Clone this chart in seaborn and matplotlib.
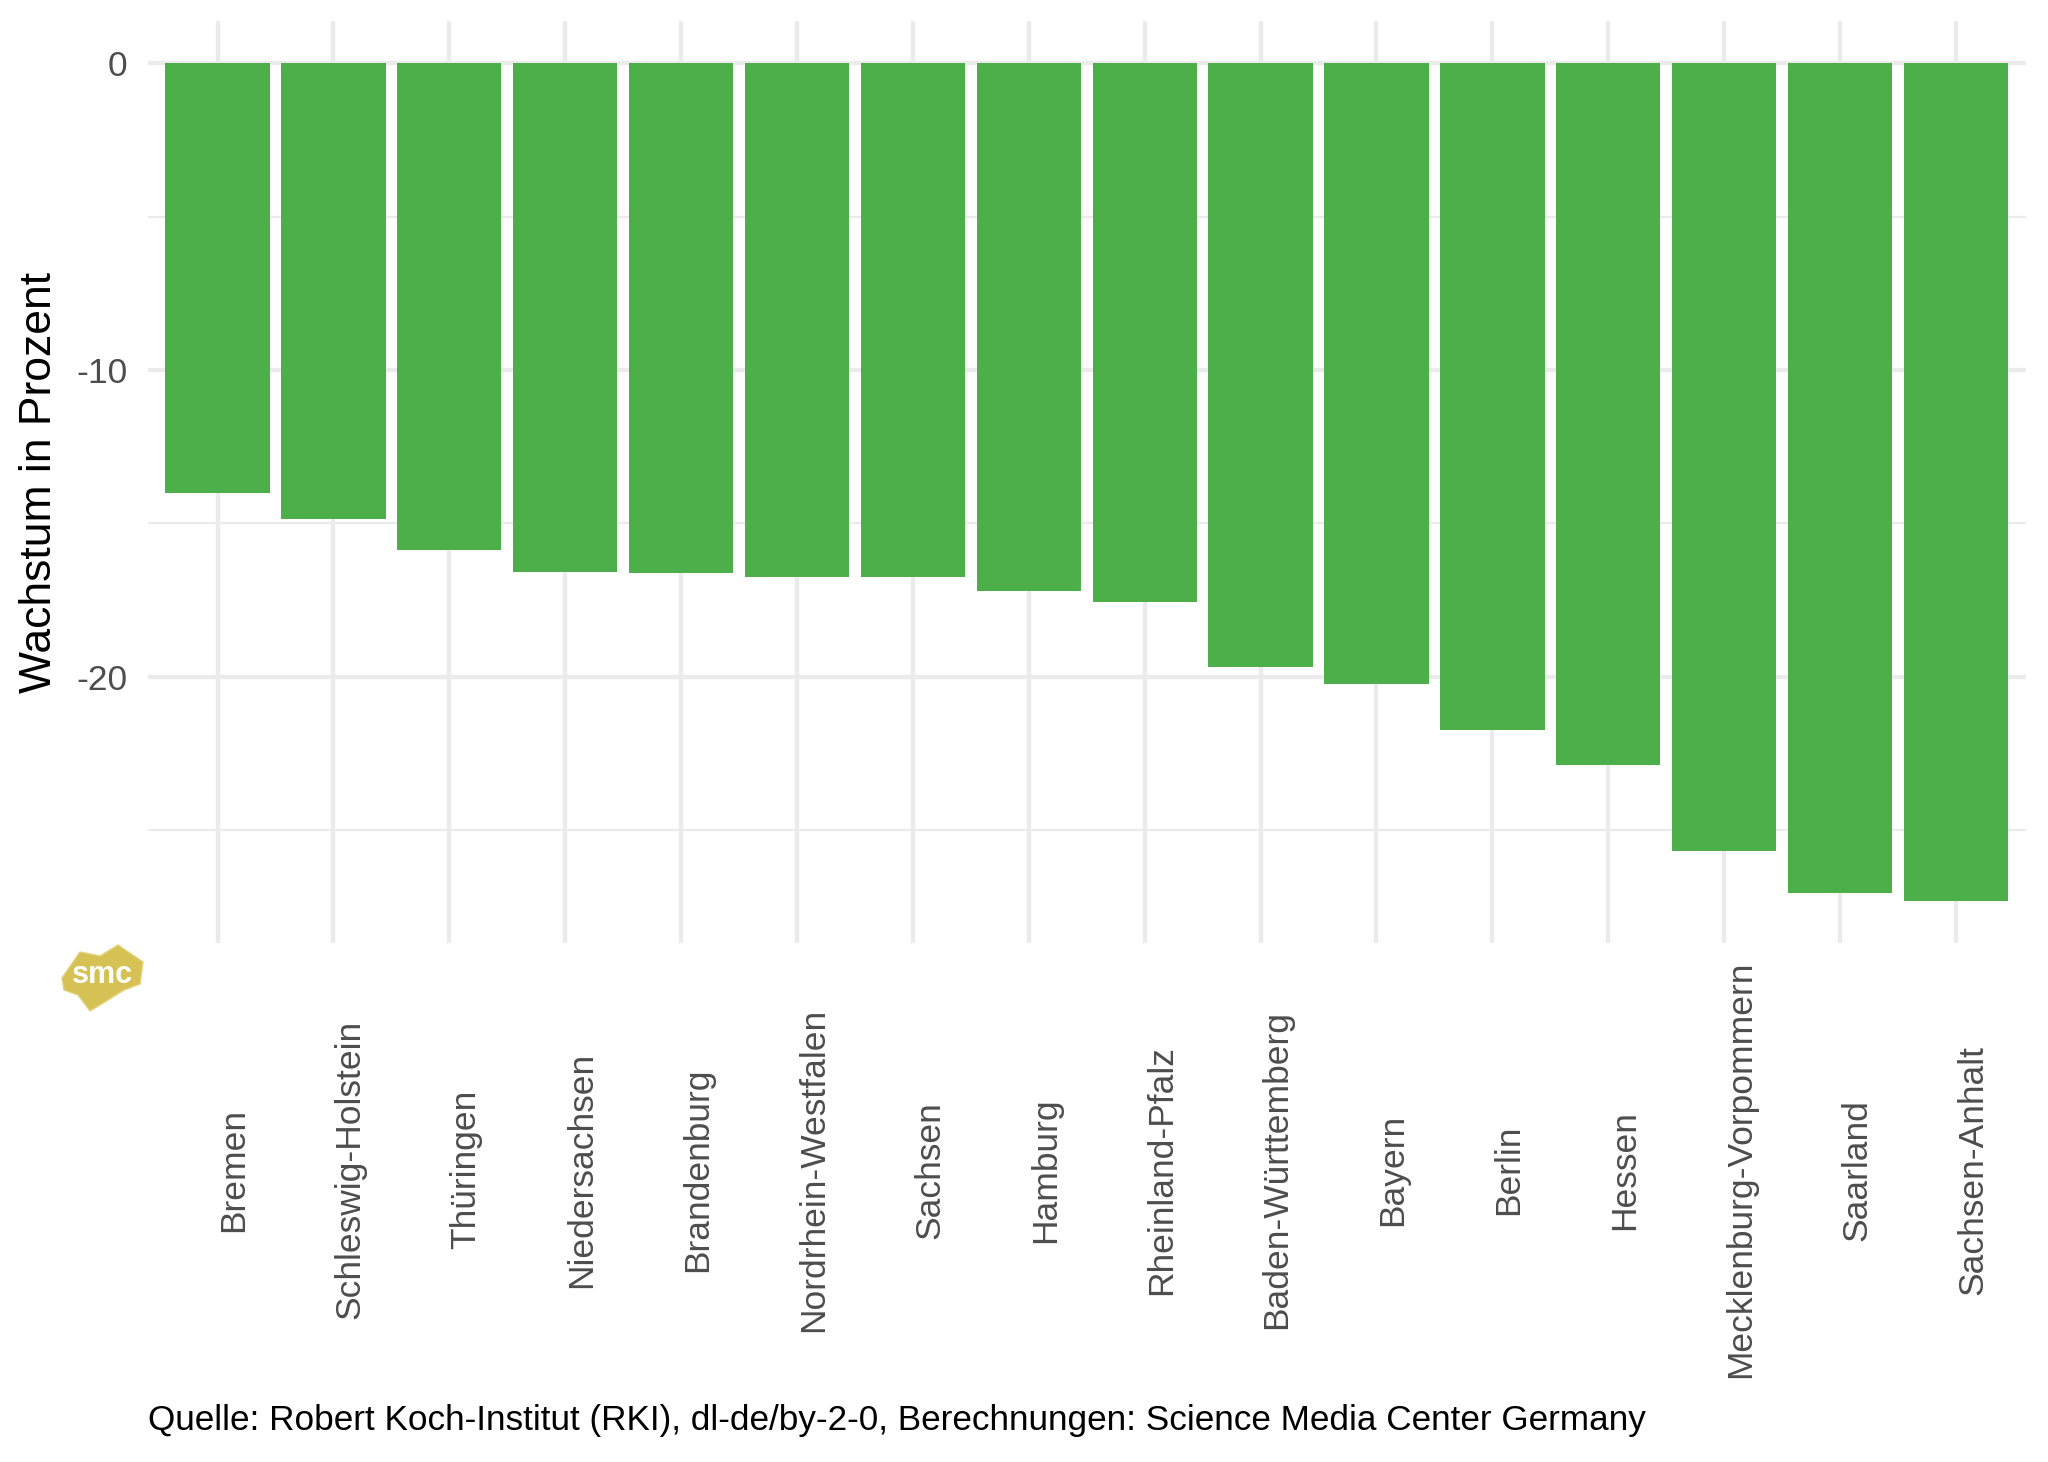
import matplotlib
matplotlib.use("Agg")
import matplotlib.pyplot as plt
from matplotlib.patches import Polygon
import seaborn as sns
import pandas as pd

# ---- data ----
states = ["Bremen", "Schleswig-Holstein", "Thüringen", "Niedersachsen", "Brandenburg",
          "Nordrhein-Westfalen", "Sachsen", "Hamburg", "Rheinland-Pfalz",
          "Baden-Württemberg", "Bayern", "Berlin", "Hessen",
          "Mecklenburg-Vorpommern", "Saarland", "Sachsen-Anhalt"]
growth = [-14.0, -14.87, -15.87, -16.59, -16.63, -16.75, -16.75, -17.2, -17.57,
          -19.67, -20.25, -21.74, -22.89, -25.68, -27.05, -27.33]
y_major = [0, -10, -20]
y_minor = [-5, -15, -25]
ylabel = "Wachstum in Prozent"
caption = "Quelle: Robert Koch-Institut (RKI), dl-de/by-2-0, Berechnungen: Science Media Center Germany"

df = pd.DataFrame({"Bundesland": states, "Wachstum": growth})

sns.set_theme(style="white")
plt.rcParams["font.family"] = ["Liberation Sans", "DejaVu Sans"]

W, H = 2048, 1462
fig = plt.figure(figsize=(W / 100, H / 100), dpi=100)
ax = fig.add_axes([148 / W, 1 - 943.4 / H, (2025.5 - 148) / W, (943.4 - 21.4) / H])

grid_c = "#EBEBEB"
sns.barplot(data=df, x="Bundesland", y="Wachstum", order=states, color="#4DAF4A",
            saturation=1, width=0.9, ax=ax, edgecolor="none", linewidth=0, zorder=3)

rng = -min(growth)
ax.set_ylim(min(growth) - 0.05 * rng, 0.05 * rng)
ax.set_xlim(-0.6, len(states) - 0.4)

ax.set_yticks(y_major)
ax.set_yticklabels([str(v) for v in y_major])
ax.set_yticks(y_minor, minor=True)
ax.grid(False)
for v in y_major:
    ax.axhline(v, color=grid_c, lw=3.1, zorder=1)
for v in y_minor:
    ax.axhline(v, color=grid_c, lw=1.55, zorder=1)
for i in range(len(states)):
    ax.axvline(i, color=grid_c, lw=3.1, zorder=1)

for s in ax.spines.values():
    s.set_visible(False)

ax.tick_params(axis="y", which="both", length=0, pad=15, labelsize=25.5, labelcolor="#4D4D4D")
ax.tick_params(axis="x", length=0, pad=163, labelsize=25.5, labelcolor="#4D4D4D")
for lab in ax.get_xticklabels():
    lab.set_rotation(90)
    lab.set_ha("left")
    lab.set_va("center")

ax.set_xlabel("")
ax.set_ylabel("")
fig.text(39.5 / W, 1 - ((21.4 + 943.4) / 2) / H, ylabel, rotation=90, ha="center",
         va="center", fontsize=32, color="black")
fig.text(148 / W, 1 - 1430 / H, caption, ha="left", va="baseline", fontsize=25.3,
         color="black")

# smc logo (decoration)
pts = [(62, 978), (80, 952), (100, 956), (118, 945), (143, 962), (140, 984),
       (124, 990), (108, 1000), (90, 1011), (78, 995), (64, 990)]
logo = Polygon([(x / W, 1 - y / H) for x, y in pts], closed=True,
               transform=fig.transFigure, facecolor="#D6C254", edgecolor="#E2D27A", lw=1)
fig.patches.append(logo)
fig.text(102 / W, 1 - 975 / H, "smc", ha="center", va="center", fontsize=22,
         color="white", fontweight="bold")

fig.savefig("out.png", dpi=100, facecolor="white")
